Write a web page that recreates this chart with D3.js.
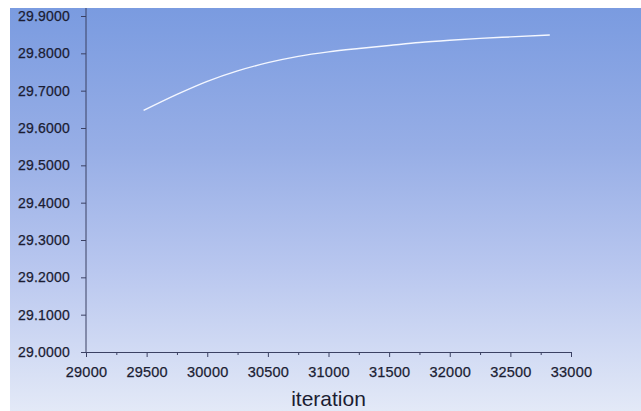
<!DOCTYPE html>
<html>
<head>
<meta charset="utf-8">
<script src="https://cdn.jsdelivr.net/npm/d3@7"></script>
<style>
  html, body { margin: 0; padding: 0; background: #ffffff; }
  svg { display: block; }
  text { font-family: "Liberation Sans", Arial, sans-serif; fill: #1b1d33; }
</style>
</head>
<body>
<svg id="chart" width="641" height="411"></svg>
<script>
// ---- data ----
const iterations = [29475, 29750, 30000, 30250, 30500, 30750, 31000, 31250, 31500, 31750, 32000, 32250, 32500, 32825];
const values     = [29.647, 29.690, 29.725, 29.753, 29.775, 29.792, 29.804, 29.813, 29.821, 29.829, 29.835, 29.840, 29.844, 29.849];
const xTicks = [29000, 29500, 30000, 30500, 31000, 31500, 32000, 32500, 33000];
const xMinorTicks = [29250, 29750, 30250, 30750, 31250, 31750, 32250, 32750];
const yTicks = [29.0, 29.1, 29.2, 29.3, 29.4, 29.5, 29.6, 29.7, 29.8, 29.9];
const xTitle = "iteration";

const W = 641, H = 411;
const bgLeft = 10, bgTop = 8;
const x0 = 86, x1 = 571, yBottom = 352, yTop = 16;

const svg = d3.select("#chart");

// background gradient
const defs = svg.append("defs");
const grad = defs.append("linearGradient").attr("id", "bg").attr("x1", 0).attr("y1", 0).attr("x2", 0).attr("y2", 1);
grad.append("stop").attr("offset", "0%").attr("stop-color", "#7a9be0");
grad.append("stop").attr("offset", "35%").attr("stop-color", "#97aee6");
grad.append("stop").attr("offset", "65%").attr("stop-color", "#b9c7ef");
grad.append("stop").attr("offset", "100%").attr("stop-color", "#e3e9f7");
svg.append("rect").attr("x", bgLeft).attr("y", bgTop).attr("width", W - bgLeft).attr("height", H - bgTop).attr("fill", "url(#bg)");

const x = d3.scaleLinear().domain([29000, 33000]).range([x0, x1]);
const y = d3.scaleLinear().domain([29.0, 29.9]).range([yBottom, yTop]);

// y axis
const yAxis = d3.axisLeft(y).tickValues(yTicks).tickFormat(d3.format(".4f")).tickSize(5).tickSizeOuter(0).tickPadding(11);
const gy = svg.append("g").attr("transform", `translate(${x0},0)`).call(yAxis);
gy.select(".domain").remove();
gy.selectAll(".tick line").attr("stroke", "#3b4163");
gy.selectAll(".tick text").attr("font-size", 14).attr("letter-spacing", "0.2px")
  .attr("fill", "#1b1d33").attr("stroke", "#1b1d33").attr("stroke-width", 0.25);
svg.append("line").attr("x1", x0).attr("x2", x0).attr("y1", bgTop).attr("y2", yBottom).attr("stroke", "#3b4163").attr("stroke-width", 1);

// x axis
const xAxis = d3.axisBottom(x).tickValues(xTicks).tickFormat(d3.format("d")).tickSize(5).tickSizeOuter(0).tickPadding(10);
const gx = svg.append("g").attr("transform", `translate(0,${yBottom})`).call(xAxis);
gx.select(".domain").attr("stroke", "#3b4163");
gx.selectAll(".tick line").attr("stroke", "#3b4163");
gx.selectAll(".tick text").attr("font-size", 14.5).attr("letter-spacing", "0.2px")
  .attr("fill", "#1b1d33").attr("stroke", "#1b1d33").attr("stroke-width", 0.25);
const xMinor = d3.axisBottom(x).tickValues(xMinorTicks).tickSize(3).tickFormat("");
const gxm = svg.append("g").attr("transform", `translate(0,${yBottom})`).call(xMinor);
gxm.select(".domain").remove();
gxm.selectAll(".tick line").attr("stroke", "#3b4163");

// title
svg.append("text").attr("x", (x0 + x1) / 2).attr("y", 406).attr("text-anchor", "middle")
  .attr("font-size", 21).attr("fill", "#1b1d33").text(xTitle);

// line
const line = d3.line().x((d, i) => x(iterations[i])).y(d => y(d)).curve(d3.curveMonotoneX);
svg.append("path").datum(values).attr("d", line).attr("fill", "none")
  .attr("stroke", "#f4f7ff").attr("stroke-width", 1.4);
</script>
</body>
</html>
